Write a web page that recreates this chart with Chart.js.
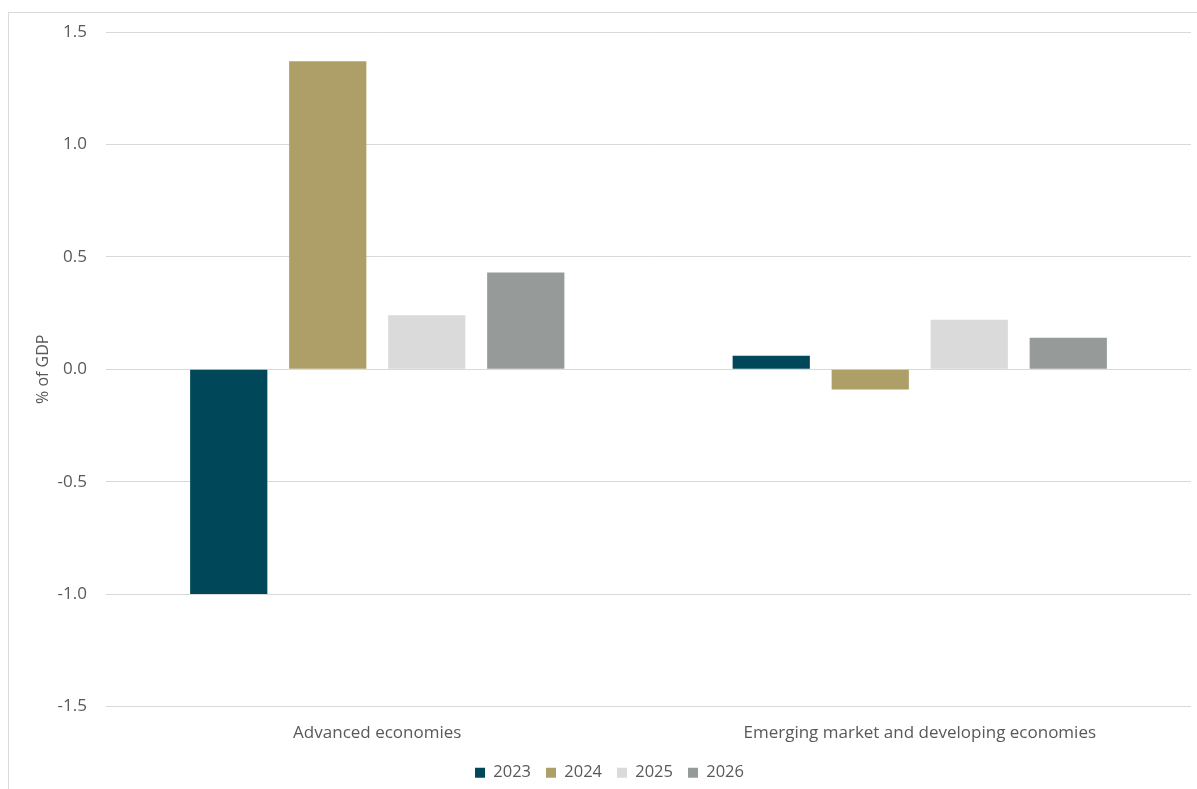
<!DOCTYPE html>
<html>
<head>
<meta charset="utf-8">
<script src="https://cdn.jsdelivr.net/npm/chart.js@4.4.0/dist/chart.umd.min.js"></script>
<style>
  html, body { margin: 0; padding: 0; background: #fff; }
  #frame { position: absolute; left: 8px; top: 12px; width: 1200px; height: 800px; border: 1px solid #d9d9d9; }
  #wrap { position: absolute; left: 0; top: 0; width: 1197px; height: 789px; }
</style>
</head>
<body>
<div id="frame"></div>
<div id="wrap"><canvas id="fiscalChart"></canvas></div>
<script>
// categories and series
const categories = ['Advanced economies', 'Emerging market and developing economies'];
const years = ['2023', '2024', '2025', '2026'];
const values2023 = [-1.0, 0.06];
const values2024 = [1.37, -0.09];
const values2025 = [0.24, 0.22];
const values2026 = [0.43, 0.14];
const colors = ['#00475a', '#ae9f69', '#dadada', '#969b9a'];

const font = "'Open Sans', 'Noto Sans', sans-serif";
const textColor = '#595959';

const ctx = document.getElementById('fiscalChart').getContext('2d');
new Chart(ctx, {
    type: 'bar',
    data: {
        labels: categories,
        datasets: [values2023, values2024, values2025, values2026].map((vals, i) => ({
            label: years[i],
            data: vals,
            backgroundColor: colors[i],
            borderColor: colors[i],
            borderWidth: 0,
            categoryPercentage: 0.73,
            barPercentage: 0.78
        }))
    },
    options: {
        responsive: true,
        maintainAspectRatio: false,
        animation: false,
        layout: { padding: { top: 32, right: 6, left: 28, bottom: -2 } },
        plugins: {
            legend: {
                position: 'bottom',
                labels: {
                    boxWidth: 10,
                    boxHeight: 10,
                    padding: 15,
                    color: textColor,
                    font: { family: font, size: 16.5 }
                }
            },
            tooltip: { enabled: false }
        },
        scales: {
            x: {
                grid: { display: false },
                border: { display: false },
                ticks: { color: textColor, padding: 8, font: { family: font, size: 17 } },
                afterFit: (scale) => { scale.height = 43; }
            },
            y: {
                min: -1.5,
                max: 1.5,
                ticks: {
                    stepSize: 0.5,
                    padding: 19,
                    color: textColor,
                    font: { family: font, size: 17 },
                    callback: (v) => v.toFixed(1)
                },
                grid: { color: '#d9d9d9', lineWidth: 1, drawTicks: false },
                border: { display: false },
                title: {
                    display: true,
                    text: '% of GDP',
                    color: textColor,
                    font: { family: font, size: 16 },
                    padding: { top: 6, bottom: 0 }
                },
                afterFit: (scale) => { scale.width = 78; }
            }
        }
    }
});
</script>
</body>
</html>
